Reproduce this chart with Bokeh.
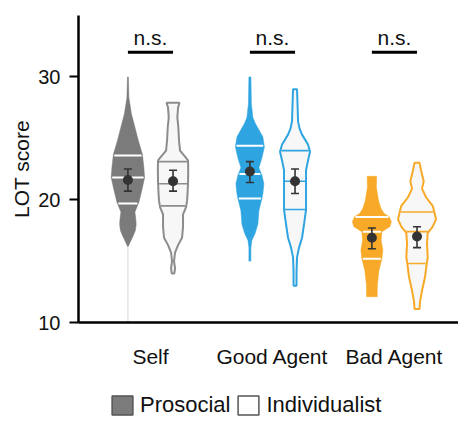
import numpy as np
from bokeh.plotting import figure
from bokeh.layouts import column
from bokeh.models import FixedTicker, Legend, LegendItem, Range1d
from bokeh.core.properties import value
from bokeh.embed import file_html
from bokeh.resources import INLINE

categories = ["Self", "Good Agent", "Bad Agent"]
groups = ["Prosocial", "Individualist"]
y_ticks = [10, 20, 30]
sig_labels = ["n.s.", "n.s.", "n.s."]

# violin outlines: LOT score levels (top to bottom) and density half-widths
self_pro_y = [30.0, 28.3, 27.0, 25.9, 24.8, 23.7, 22.6, 21.8, 20.8, 19.8, 19.0, 18.5, 18.0, 17.5, 17.0, 16.5, 16.2]
self_pro_w = [0.4, 1.0, 3.5, 7.0, 10.5, 14.5, 16.0, 16.7, 14.0, 11.0, 7.0, 7.8, 8.3, 7.5, 5.0, 2.0, 0.4]
self_ind_y = [27.9, 27.5, 26.7, 25.9, 24.8, 24.0, 23.5, 23.2, 22.4, 21.4, 20.5, 19.9, 19.4, 18.8, 17.8, 16.9, 16.3, 15.7, 15.0, 14.4, 14.0]
self_ind_w = [6.5, 5.0, 4.3, 5.3, 6.0, 7.0, 12.0, 15.0, 15.2, 15.0, 14.5, 14.0, 13.0, 10.0, 10.0, 9.0, 5.0, 2.0, 1.0, 2.0, 1.3]
good_pro_y = [30.0, 27.8, 26.7, 26.2, 25.7, 25.1, 24.3, 23.4, 22.6, 22.0, 21.3, 20.5, 20.1, 19.1, 18.0, 17.2, 16.7, 16.1, 15.0]
good_pro_w = [1.0, 1.5, 3.0, 5.5, 9.0, 13.0, 14.5, 12.0, 9.0, 12.0, 14.0, 13.0, 12.0, 9.0, 8.0, 5.0, 2.0, 1.0, 1.0]
good_ind_y = [29.0, 27.8, 26.4, 25.8, 25.3, 24.5, 23.9, 23.2, 22.4, 21.5, 20.5, 19.2, 18.0, 16.9, 16.1, 15.3, 14.2, 13.0]
good_ind_w = [2.0, 2.5, 3.0, 4.5, 7.0, 13.0, 15.0, 13.0, 11.0, 11.0, 11.0, 11.0, 9.0, 7.0, 4.0, 2.0, 1.5, 1.5]
bad_pro_y = [21.9, 21.0, 19.9, 19.3, 18.9, 18.6, 18.2, 17.8, 17.4, 16.7, 15.9, 15.2, 14.2, 13.1, 12.1]
bad_pro_w = [4.7, 4.5, 6.7, 9.0, 12.0, 17.5, 19.5, 18.0, 10.0, 9.3, 11.0, 10.0, 7.0, 5.5, 5.3]
bad_ind_y = [23.0, 22.4, 21.5, 20.9, 20.2, 19.5, 19.0, 18.4, 17.8, 17.3, 16.4, 15.3, 14.8, 13.7, 12.6, 11.7, 11.1]
bad_ind_w = [2.5, 4.0, 6.7, 5.0, 9.0, 15.7, 17.3, 19.0, 15.7, 10.7, 10.0, 10.7, 9.7, 8.0, 5.0, 3.0, 2.5]

# quartiles (Q1, median, Q3)
self_pro_q = [19.7, 21.8, 23.6]
self_ind_q = [19.5, 21.3, 23.1]
good_pro_q = [20.1, 22.1, 24.4]
good_ind_q = [19.2, 21.5, 24.0]
bad_pro_q = [15.2, 17.4, 18.6]
bad_ind_q = [14.8, 17.4, 19.0]

# means and error bars
pro_mean = [21.6, 22.3, 16.9]
pro_lo = [20.7, 21.4, 16.0]
pro_hi = [22.5, 23.1, 17.7]
ind_mean = [21.5, 21.5, 17.0]
ind_lo = [20.7, 20.5, 16.1]
ind_hi = [22.4, 22.5, 17.8]

cat_colors = ["#7b7b7b", "#2ea5e0", "#f7a927"]
ind_lines = ["#8c8c8c", "#2ea5e0", "#f7a927"]
IND_FILL = "#f7f7f7"
DENS = 1 / 122.0
OFF = 0.185
FONT = "Liberation Sans"

p = figure(width=458, height=370, output_backend="svg", toolbar_location=None,
           x_range=Range1d(0.41, 3.525), y_range=Range1d(10, 35),
           min_border_left=78, min_border_right=0, min_border_top=15, min_border_bottom=48)
p.outline_line_color = None
p.xgrid.visible = False
p.ygrid.visible = False

pro_profiles = [(self_pro_y, self_pro_w, self_pro_q), (good_pro_y, good_pro_w, good_pro_q), (bad_pro_y, bad_pro_w, bad_pro_q)]
ind_profiles = [(self_ind_y, self_ind_w, self_ind_q), (good_ind_y, good_ind_w, good_ind_q), (bad_ind_y, bad_ind_w, bad_ind_q)]

# faint tail of the Self prosocial violin
p.segment(x0=[1 - OFF], y0=[10], x1=[1 - OFF], y1=[30], line_color="#e4e4e4", line_width=1.5)

def violin(c, y, w):
    y = np.array(y); w = np.array(w) * DENS
    xs = list(c + w) + list((c - w)[::-1])
    ys = list(y) + list(y[::-1])
    return xs, ys

for i in range(3):
    for j, (profiles, side) in enumerate([(pro_profiles, -OFF), (ind_profiles, OFF)]):
        y, w, q = profiles[i]
        c = i + 1 + side
        xs, ys = violin(c, y, w)
        if j == 0:
            p.patch(xs, ys, fill_color=cat_colors[i], line_color=cat_colors[i], line_width=0.5)
            qcol, qw = "white", 2
        else:
            p.patch(xs, ys, fill_color=IND_FILL, line_color=ind_lines[i], line_width=2)
            qcol, qw = ind_lines[i], 1.6
        hw = np.interp(q, np.array(y)[::-1], np.array(w)[::-1]) * DENS
        p.segment(x0=list(c - hw + 0.008), y0=q, x1=list(c + hw - 0.008), y1=q, line_color=qcol, line_width=qw)

# means with error bars
CAP = 4 * DENS
for side, m, lo, hi in [(-OFF, pro_mean, pro_lo, pro_hi), (OFF, ind_mean, ind_lo, ind_hi)]:
    xc = [k + 1 + side for k in range(3)]
    p.segment(x0=xc, y0=lo, x1=xc, y1=hi, line_color="#333333", line_width=1.6)
    p.segment(x0=[x - CAP for x in xc], y0=lo, x1=[x + CAP for x in xc], y1=lo, line_color="#333333", line_width=1.6)
    p.segment(x0=[x - CAP for x in xc], y0=hi, x1=[x + CAP for x in xc], y1=hi, line_color="#333333", line_width=1.6)
    p.scatter(x=xc, y=m, size=10, fill_color="#333333", line_color=None)

# significance bars
xs0 = [k + 1 - OFF for k in range(3)]
xs1 = [k + 1 + OFF for k in range(3)]
p.segment(x0=xs0, y0=[32.0] * 3, x1=xs1, y1=[32.0] * 3, line_color="black", line_width=3)
p.text(x=[k + 1 for k in range(3)], y=[33.2] * 3, text=sig_labels, text_align="center",
       text_baseline="alphabetic", text_font=value(FONT), text_font_size="21px", text_color="#111111")

# axes
p.xaxis.ticker = FixedTicker(ticks=[1, 2, 3])
p.xaxis.major_label_overrides = {1: categories[0], 2: categories[1], 3: categories[2]}
p.xaxis.major_tick_line_color = None
p.xaxis.minor_tick_line_color = None
p.xaxis.axis_line_width = 2.5
p.xaxis.major_label_standoff = 16
p.xaxis.major_label_text_font = FONT
p.xaxis.major_label_text_font_size = "21px"
p.xaxis.major_label_text_color = "#111111"

p.yaxis.ticker = FixedTicker(ticks=y_ticks)
p.yaxis.minor_tick_line_color = None
p.yaxis.axis_line_width = 2.5
p.yaxis.major_tick_line_width = 2
p.yaxis.major_tick_out = 9
p.yaxis.major_tick_in = 0
p.yaxis.major_label_standoff = 9
p.yaxis.major_label_text_font = FONT
p.yaxis.major_label_text_font_size = "20px"
p.yaxis.major_label_text_color = "#111111"
p.yaxis.axis_label = "LOT score"
p.yaxis.axis_label_text_font = FONT
p.yaxis.axis_label_text_font_size = "21px"
p.yaxis.axis_label_text_font_style = "normal"
p.yaxis.axis_label_standoff = 2
p.yaxis.axis_label_text_color = "#111111"

# legend in a small strip below
q = figure(width=458, height=54, output_backend="svg", toolbar_location=None,
           x_range=Range1d(0, 1), y_range=Range1d(0, 1),
           x_axis_location=None, y_axis_location=None, min_border=0)
q.outline_line_color = None
q.xgrid.visible = False
q.ygrid.visible = False
r_pro = q.quad(left=[5], right=[6], top=[5], bottom=[6], fill_color="#7b7b7b", line_color="#555555", line_width=1.5)
r_ind = q.quad(left=[5], right=[6], top=[5], bottom=[6], fill_color="white", line_color="#555555", line_width=1.5)
legend = Legend(items=[LegendItem(label=groups[0], renderers=[r_pro]), LegendItem(label=groups[1], renderers=[r_ind])],
                orientation="horizontal", location=(31, 6), glyph_width=26, glyph_height=24,
                label_standoff=5, spacing=5, padding=0, margin=0,
                label_text_font=FONT, label_text_font_size="22px", label_text_color="#111111",
                border_line_alpha=0, background_fill_alpha=0)
q.add_layout(legend, "center")

layout = column(p, q, spacing=0)
open("out.html", "w").write(file_html(layout, INLINE))
